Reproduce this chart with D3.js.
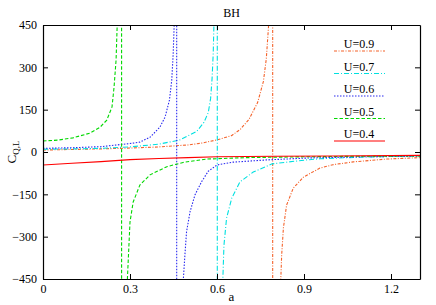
<!DOCTYPE html>
<html>
<head>
<meta charset="utf-8">
<script src="https://cdn.jsdelivr.net/npm/d3@7"></script>
<style>
  body { margin: 0; background: #fff; }
  svg text { font-family: "Liberation Serif", "Times New Roman", Times, serif !important; }
</style>
</head>
<body>
<svg class="chart"></svg>
<script>
// curves, [a, C_QL]; the huge values bracket each pole
const u09 = [[0,7],[0.1,9],[0.2,11],[0.3,14],[0.4,18],[0.5,25],[0.55,32],[0.6,43],[0.65,58],[0.68,80],
  [0.71,115],[0.74,175],[0.76,250],[0.77,330],[0.78,480],[0.787,1500],[0.7915,60000],
  [0.7925,-60000],[0.80,-2000],[0.81,-800],[0.82,-450],[0.823,-365],[0.829,-269],[0.84,-188],
  [0.863,-128],[0.898,-89],[0.955,-57],[1.0,-45],[1.07,-35],[1.185,-25],[1.3,-20]];
const u07 = [[0,10],[0.1,11],[0.2,13],[0.3,18],[0.4,28],[0.47,42],[0.53,73],[0.555,105],[0.57,140],
  [0.578,190],[0.583,260],[0.587,350],[0.591,520],[0.595,1500],[0.6005,60000],
  [0.6015,-60000],[0.61,-1500],[0.618,-520],[0.624,-330],[0.633,-234],[0.651,-163],[0.679,-106],
  [0.725,-71],[0.79,-42],[0.909,-28],[0.955,-24],[1.1,-18],[1.3,-14]];
const u06 = [[0,13],[0.1,15],[0.2,19],[0.3,30],[0.334,35],[0.37,53],[0.403,88],[0.421,124],[0.436,184],
  [0.444,255],[0.449,350],[0.453,470],[0.457,1200],[0.4605,60000],
  [0.4615,-60000],[0.47,-1500],[0.478,-700],[0.484,-450],[0.49,-355],[0.495,-283],[0.507,-212],
  [0.524,-152],[0.547,-105],[0.57,-68],[0.6,-46],[0.655,-36],[0.772,-28],[0.92,-21],[1.1,-17],[1.3,-15]];
const u05 = [[0,39],[0.05,42],[0.103,50],[0.162,67],[0.197,88],[0.22,113],[0.238,160],[0.245,230],
  [0.252,326],[0.258,520],[0.264,1200],[0.2705,60000],
  [0.2715,-60000],[0.28,-1500],[0.287,-650],[0.291,-450],[0.3,-248],[0.311,-177],[0.334,-117],
  [0.369,-81],[0.427,-52],[0.483,-37],[0.564,-25],[0.7,-20],[0.9,-17],[1.1,-15],[1.3,-14]];
const u04 = [[0,-46],[0.1,-40],[0.2,-34],[0.3,-27],[0.4,-23],[0.5,-20],[0.6,-17],[0.8,-15],[1.0,-14],[1.3,-12]];

const labels = ['U=0.9', 'U=0.7', 'U=0.6', 'U=0.5', 'U=0.4'];
const xTicks = [0, 0.3, 0.6, 0.9, 1.2];
const yTicks = [-450, -300, -150, 0, 150, 300, 450];

const series = [
  {data: u09, color: '#f4622a', dash: '3,1.5,1,1.5'},
  {data: u07, color: '#00e0e0', dash: '5,2,1,2'},
  {data: u06, color: '#2a2af0', dash: '1.5,1.5'},
  {data: u05, color: '#00d800', dash: '3.5,2'},
  {data: u04, color: '#ff0000', dash: null}
];

const svgWidth = 436;
const svgHeight = 305;
const margin = {top: 25, right: 16, bottom: 26, left: 43};
const width = svgWidth - margin.left - margin.right;
const height = svgHeight - margin.top - margin.bottom;

const svg = d3.select('.chart')
  .attr('width', svgWidth)
  .attr('height', svgHeight);
const g = svg.append('g')
  .attr('transform', `translate(${margin.left}, ${margin.top})`);

const x = d3.scaleLinear().domain([0, 1.3]).range([0, width]);
const y = d3.scaleLinear().domain([-450, 450]).range([height, 0]);

svg.append('defs').append('clipPath').attr('id', 'clip')
  .append('rect').attr('width', width).attr('height', height);

const line = d3.line()
  .x(d => x(d[0]))
  .y(d => y(d[1]));

const curves = g.append('g').attr('clip-path', 'url(#clip)');
series.forEach(s => {
  curves.append('path')
    .datum(s.data)
    .attr('fill', 'none')
    .attr('stroke', s.color)
    .attr('stroke-width', 1.1)
    .attr('stroke-dasharray', s.dash)
    .attr('d', line);
});

// axes, ticks pointing inward on all four sides
const styleAxis = sel => {
  sel.attr('font-family', null);
  sel.selectAll('text').attr('font-size', 12).attr('fill', '#000');
  sel.selectAll('line,path').attr('stroke', '#000');
};
g.append('g')
  .attr('transform', `translate(0, ${height})`)
  .call(d3.axisBottom(x).tickValues(xTicks).tickSizeInner(-5).tickSizeOuter(0).tickPadding(5).tickFormat(d3.format('')))
  .call(styleAxis);
g.append('g')
  .call(d3.axisLeft(y).tickValues(yTicks).tickSizeInner(-5).tickSizeOuter(0).tickPadding(6))
  .call(styleAxis);
g.append('g')
  .call(d3.axisTop(x).tickValues(xTicks).tickSizeInner(-5).tickSizeOuter(0).tickFormat(''))
  .call(styleAxis);
g.append('g')
  .attr('transform', `translate(${width}, 0)`)
  .call(d3.axisRight(y).tickValues(yTicks).tickSizeInner(-5).tickSizeOuter(0).tickFormat(''))
  .call(styleAxis);
g.selectAll('.domain').attr('stroke-width', 1.2);

// title and axis labels
svg.append('text')
  .attr('x', margin.left + width / 2).attr('y', 17)
  .attr('text-anchor', 'middle').attr('font-size', 12)
  .text('BH');
svg.append('text')
  .attr('x', margin.left + width / 2).attr('y', 301)
  .attr('text-anchor', 'middle').attr('font-size', 13)
  .text('a');
const yl = svg.append('text')
  .attr('transform', `translate(16, ${margin.top + height / 2}) rotate(-90)`)
  .attr('text-anchor', 'middle').attr('font-size', 13);
yl.append('tspan').text('C');
yl.append('tspan').attr('dy', 3).attr('font-size', 9).text('Q,L');

// legend
const legend = g.append('g');
labels.forEach((lab, i) => {
  const ly = 26 + i * 22.5;
  legend.append('text')
    .attr('x', 316).attr('y', ly - 3)
    .attr('text-anchor', 'middle').attr('font-size', 12)
    .text(lab);
  legend.append('line')
    .attr('x1', 291).attr('x2', 342)
    .attr('y1', ly).attr('y2', ly)
    .attr('stroke', series[i].color)
    .attr('stroke-width', 1.1)
    .attr('stroke-dasharray', series[i].dash);
});
</script>
</body>
</html>
